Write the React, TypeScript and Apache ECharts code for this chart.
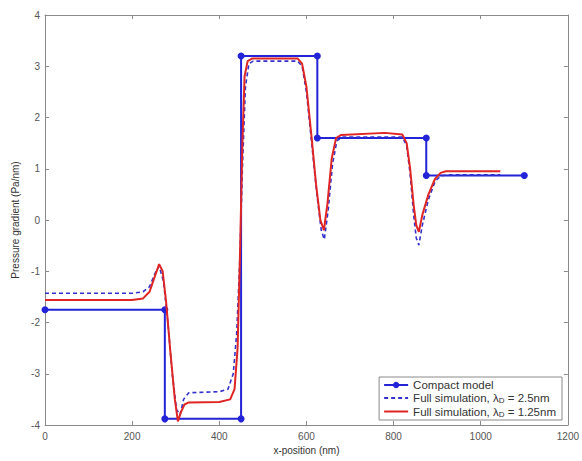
import React, { useEffect, useRef } from "react";
import * as echarts from "echarts";

const compactX = [0, 275, 275, 450, 450, 625, 625, 875, 875, 1100];
const compactY = [-1.75, -1.75, -3.88, -3.88, 3.2, 3.2, 1.6, 1.6, 0.87, 0.87];

const coarseX = [0, 200, 225, 240, 252, 262, 272, 282, 292, 302, 310, 318, 330, 400, 420, 432, 440, 447, 453, 460, 468, 478, 580, 590, 600, 612, 624, 634, 641, 650, 660, 670, 685, 820, 830, 838, 846, 852, 858, 866, 880, 895, 908, 920, 1045];
const coarseY = [-1.43, -1.43, -1.4, -1.3, -1.05, -0.9, -1.2, -2.0, -3.0, -3.7, -3.8, -3.5, -3.37, -3.35, -3.3, -3.0, -2.2, -0.8, 1.0, 2.6, 3.05, 3.1, 3.1, 3.0, 2.5, 1.5, 0.5, -0.2, -0.38, 0.2, 1.1, 1.55, 1.62, 1.62, 1.45, 0.9, 0.1, -0.35, -0.49, -0.1, 0.4, 0.75, 0.86, 0.88, 0.88];

const fineX = [0, 200, 225, 240, 252, 262, 270, 278, 288, 298, 305, 312, 320, 330, 400, 425, 435, 442, 448, 453, 458, 465, 475, 580, 590, 600, 612, 622, 632, 640, 648, 658, 668, 680, 780, 820, 830, 838, 846, 852, 858, 866, 880, 895, 908, 920, 1045];
const fineY = [-1.56, -1.56, -1.53, -1.4, -1.1, -0.86, -1.0, -1.6, -2.6, -3.5, -3.93, -3.75, -3.6, -3.56, -3.55, -3.5, -3.3, -2.5, -0.5, 1.5, 2.8, 3.1, 3.15, 3.15, 3.05, 2.6, 1.6, 0.7, 0.0, -0.2, 0.3, 1.2, 1.6, 1.66, 1.7, 1.67, 1.5, 1.0, 0.3, -0.1, -0.23, 0.1, 0.5, 0.8, 0.92, 0.95, 0.95];

const xTicks = [0, 200, 400, 600, 800, 1000, 1200];
const yTicks = [-4, -3, -2, -1, 0, 1, 2, 3, 4];

const seriesNames = [
  "Compact model",
  "Full simulation, λ_D = 2.5nm",
  "Full simulation, λ_D = 1.25nm",
];

const zip = (xs: number[], ys: number[]) => xs.map((x, i) => [x, ys[i]]);

export default function App() {
  const ref = useRef<HTMLDivElement>(null);
  useEffect(() => {
    if (!ref.current) return;
    const chart = echarts.init(ref.current, undefined, { renderer: "svg" });
    const font = "Liberation Sans, Arial, sans-serif";
    const axisColor = "#8a8a8a";
    const labelColor = "#555";
    const baseAxis = {
      axisLine: { show: true, onZero: false, lineStyle: { color: axisColor, width: 1 } },
      axisTick: { show: true, inside: true, length: 4, lineStyle: { color: axisColor } },
      splitLine: { show: false },
    };
    const hideSym = { color: "rgba(0,0,0,0)", borderWidth: 0, opacity: 0 };
    chart.setOption({
      animation: false,
      backgroundColor: "#fff",
      textStyle: { fontFamily: font },
      grid: { left: 45, right: 13, top: 15, bottom: 36 },
      legend: {
        orient: "vertical",
        right: 20,
        bottom: 41,
        backgroundColor: "#fff",
        borderColor: axisColor,
        borderWidth: 1,
        borderRadius: 0,
        padding: [2, 6, 2, 4],
        itemGap: 1,
        itemWidth: 24,
        itemHeight: 8,
        textStyle: {
          fontSize: 11.5,
          color: "#333",
          fontFamily: font,
          rich: {
            sub: { fontSize: 8, verticalAlign: "bottom", padding: [5, 0, 0, 0], color: "#333" },
          },
        },
        formatter: (name: string) => {
          if (name.includes("λ_D")) {
            const [a, b] = name.split("λ_D");
            return a + "λ{sub|D}" + b;
          }
          return name;
        },
        data: [
          { name: seriesNames[0] },
          { name: seriesNames[1], itemStyle: hideSym },
          { name: seriesNames[2], itemStyle: hideSym },
        ],
      },
      xAxis: [
        {
          ...baseAxis,
          type: "value",
          min: 0,
          max: 1200,
          interval: 200,
          name: "x-position (nm)",
          nameLocation: "middle",
          nameGap: 20,
          nameTextStyle: { fontSize: 10, color: "#333" },
          axisLabel: { fontSize: 10, color: labelColor, margin: 6, formatter: (v: number) => (xTicks.includes(v) ? String(v) : "") },
        },
        {
          ...baseAxis,
          type: "value",
          position: "top",
          min: 0,
          max: 1200,
          interval: 200,
          axisLabel: { show: false },
        },
      ],
      yAxis: [
        {
          ...baseAxis,
          type: "value",
          min: -4,
          max: 4,
          interval: 1,
          name: "Pressure gradient (Pa/nm)",
          nameLocation: "middle",
          nameGap: 24,
          nameTextStyle: { fontSize: 10, color: "#333" },
          axisLabel: { fontSize: 10, color: labelColor, margin: 5, formatter: (v: number) => (yTicks.includes(v) ? String(v) : "") },
        },
        {
          ...baseAxis,
          type: "value",
          position: "right",
          min: -4,
          max: 4,
          interval: 1,
          axisLabel: { show: false },
        },
      ],
      series: [
        {
          name: seriesNames[0],
          type: "line",
          data: zip(compactX, compactY),
          symbol: "circle",
          symbolSize: 7,
          showSymbol: true,
          itemStyle: { color: "#2323d8" },
          lineStyle: { color: "#2323d8", width: 2 },
          z: 3,
        },
        {
          name: seriesNames[1],
          type: "line",
          data: zip(coarseX, coarseY),
          showSymbol: false,
          symbol: "none",
          itemStyle: { color: "#3333cc" },
          lineStyle: { color: "#3333cc", width: 1.6, type: [4, 3] },
          z: 4,
        },
        {
          name: seriesNames[2],
          type: "line",
          data: zip(fineX, fineY),
          showSymbol: false,
          symbol: "none",
          itemStyle: { color: "#e02525" },
          lineStyle: { color: "#e02525", width: 2 },
          z: 5,
        },
      ],
    });
    return () => chart.dispose();
  }, []);
  return <div ref={ref} style={{ position: "fixed", left: 0, top: 0, width: 582, height: 461 }} />;
}
